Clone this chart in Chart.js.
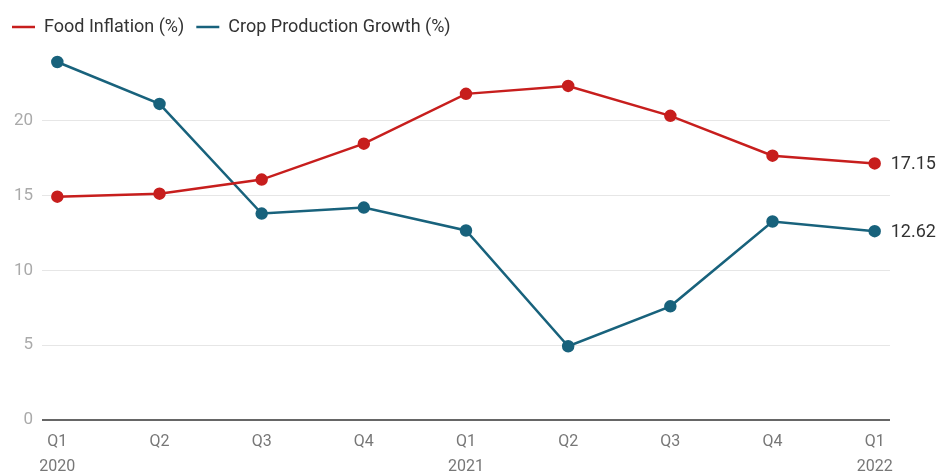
<!DOCTYPE html>
<html lang="en">
<head>
    <meta charset="UTF-8">
    <title>Food Inflation vs Crop Production Growth</title>
    <script src="https://cdn.jsdelivr.net/npm/chart.js@4.4.1/dist/chart.umd.min.js"></script>
    <style>
        body {
            margin: 0;
            background-color: #fff;
        }
        .chart-wrapper {
            width: 939px;
            height: 476px;
            position: relative;
        }
    </style>
</head>
<body>
    <div class="chart-wrapper">
        <canvas id="chart"></canvas>
    </div>

    <script>
        // Quarters and years
        const quarters = ['Q1', 'Q2', 'Q3', 'Q4', 'Q1', 'Q2', 'Q3', 'Q4', 'Q1'];
        const years = ['2020', '', '', '', '2021', '', '', '', '2022'];

        // Series values
        const foodInflation = [14.93, 15.13, 16.07, 18.47, 21.8, 22.33, 20.33, 17.67, 17.15];
        const cropGrowth = [23.93, 21.13, 13.8, 14.2, 12.67, 4.93, 7.6, 13.27, 12.62];

        const yTicks = [0, 5, 10, 15, 20];

        const RED = '#c71e1d';
        const BLUE = '#18627c';

        // Value labels at the end of each line
        const endLabels = {
            id: 'endLabels',
            afterDatasetsDraw(chart) {
                const ctx = chart.ctx;
                ctx.save();
                ctx.font = '18px Roboto';
                ctx.fillStyle = '#333';
                ctx.textBaseline = 'middle';
                chart.data.datasets.forEach((ds, i) => {
                    const meta = chart.getDatasetMeta(i);
                    const last = meta.data[meta.data.length - 1];
                    const v = ds.data[ds.data.length - 1].y;
                    ctx.fillText(v.toFixed(2), last.x + 16, last.y + 1);
                });
                ctx.restore();
            }
        };

        const toPoints = arr => arr.map((v, i) => ({ x: i, y: v }));

        new Chart(document.getElementById('chart'), {
            type: 'line',
            data: {
                datasets: [
                    {
                        label: 'Food Inflation (%)',
                        data: toPoints(foodInflation),
                        borderColor: RED,
                        backgroundColor: RED,
                        borderWidth: 2.5,
                        pointRadius: 5,
                        pointHoverRadius: 5,
                        tension: 0
                    },
                    {
                        label: 'Crop Production Growth (%)',
                        data: toPoints(cropGrowth),
                        borderColor: BLUE,
                        backgroundColor: BLUE,
                        borderWidth: 2.5,
                        pointRadius: 5,
                        pointHoverRadius: 5,
                        tension: 0
                    }
                ]
            },
            options: {
                responsive: true,
                maintainAspectRatio: false,
                animation: false,
                layout: {
                    padding: { left: 0, right: 49, top: 6, bottom: 0 }
                },
                plugins: {
                    legend: {
                        position: 'top',
                        align: 'start',
                        labels: {
                            usePointStyle: true,
                            pointStyle: 'line',
                            pointStyleWidth: 23,
                            color: '#333',
                            font: { family: 'Roboto', size: 18 },
                            padding: 12
                        }
                    },
                    tooltip: { enabled: false }
                },
                scales: {
                    x: {
                        type: 'linear',
                        min: -0.15,
                        max: 8.15,
                        afterBuildTicks: s => { s.ticks = quarters.map((_, i) => ({ value: i })); },
                        afterFit: s => { s.height = 56; },
                        grid: { display: false, drawTicks: false },
                        border: { display: false },
                        ticks: {
                            color: '#777',
                            font: { family: 'Roboto', size: 16, lineHeight: 1.55 },
                            padding: 10,
                            maxRotation: 0,
                            autoSkip: false,
                            callback: (v) => years[v] ? [quarters[v], years[v]] : [quarters[v]]
                        }
                    },
                    y: {
                        min: 0,
                        max: 25,
                        afterBuildTicks: s => { s.ticks = yTicks.map(v => ({ value: v })); },
                        afterFit: s => { s.width = 42; },
                        grid: {
                            drawTicks: false,
                            color: ctx => ctx.tick && ctx.tick.value === 0 ? '#666' : '#e6e6e6',
                            lineWidth: ctx => ctx.tick && ctx.tick.value === 0 ? 2 : 1
                        },
                        border: { display: false },
                        ticks: {
                            color: '#aaa',
                            font: { family: 'Roboto', size: 17 },
                            padding: 9
                        }
                    }
                }
            },
            plugins: [endLabels]
        });
    </script>
</body>
</html>
